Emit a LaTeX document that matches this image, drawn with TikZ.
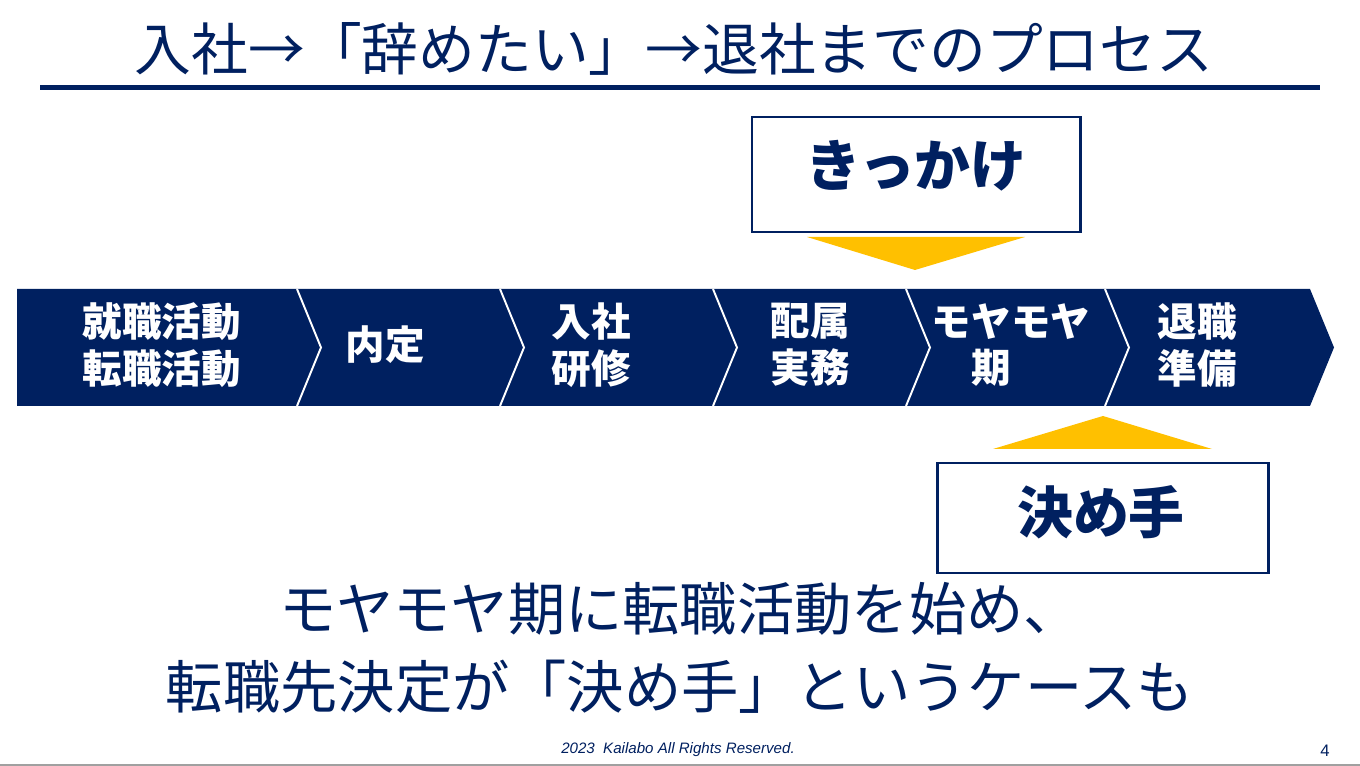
\documentclass[tikz,border=0pt]{standalone}
\usepackage{fontspec}
\setmainfont{Noto Sans CJK JP}
\newfontfamily\latinfont{Liberation Sans}
\usepackage{tikz}
\usetikzlibrary{positioning, calc}
\definecolor{navyblue}{RGB}{0,32,96}
\definecolor{signyellow}{RGB}{255,192,0}
\definecolor{edgegray}{RGB}{160,160,160}
\tikzset{
    stagetext/.style={text=white, font=\bfseries\fontsize{22.5}{26.5}\selectfont, align=center, inner sep=0pt},
    cuetext/.style={text=navyblue, font=\bfseries\fontsize{31.8}{36}\selectfont, inner sep=0pt},
    cuebox/.style={draw=navyblue, line width=1.7pt, fill=white}
}

\begin{document}
\begin{tikzpicture}[x=0.02cm, y=-0.02cm]
    % Page
    \fill[white] (0,0) rectangle (1360,766);
    \useasboundingbox (0,0) rectangle (1360,766);
    \draw[edgegray, line width=1.2pt] (0,765) -- (1360,765);

    % Title
    \node[text=navyblue, font=\fontsize{32.3}{36}\selectfont, inner sep=0pt] (title) at (674,49) {入社→「辞めたい」→退社までのプロセス};
    \draw[navyblue, line width=2.5pt] (40,87.5) -- (1320,87.5);

    % Trigger box
    \draw[cuebox] (752,117) rectangle (1080,232);
    \node[cuetext] (kikkake) at (916,166) {きっかけ};
    \fill[signyellow] (807,237) -- (1025,237) -- (915,270) -- cycle;

    % Process band
    \fill[navyblue] (17,289) -- (1310,289) -- (1334,347.5) -- (1310,406) -- (17,406) -- cycle;
    \foreach \sx in {297,500,713,906,1105} {
        \draw[white, line width=1.1pt] (\sx,289) -- ++(24,58.5) -- ++(-24,58.5);
    }
    \foreach \cx/\lab [count=\i] in {162/{就職活動\\転職活動}, 385/{内定}, 591/{入社\\研修}, 810/{配属\\実務}, 1011/{モヤモヤ\\期\hspace*{1em}}, 1197/{退職\\準備}} {
        \node[stagetext] (stage\i) at (\cx,345) {\lab};
    }

    % Deciding factor box
    \fill[signyellow] (993,449) -- (1212,449) -- (1103,416) -- cycle;
    \draw[cuebox] (937,463) rectangle (1268,573);
    \node[cuetext] (kimete) at (1101,512) {決め手};

    % Summary
    \node[text=navyblue, font=\fontsize{32.6}{44.5}\selectfont, align=center, inner sep=0pt] (summary) at (680,648) {モヤモヤ期に転職活動を始め、\\転職先決定が「決め手」というケースも};

    % Footer
    \node[text=navyblue, font=\latinfont\itshape\fontsize{8.6}{10}\selectfont, inner sep=0pt] (copyright) at (678,750) {2023\ \ Kailabo All Rights Reserved.};
    \node[text=navyblue, font=\latinfont\fontsize{9.5}{11}\selectfont, inner sep=0pt] (pagenum) at (1325,751) {4};
\end{tikzpicture}
\end{document}
